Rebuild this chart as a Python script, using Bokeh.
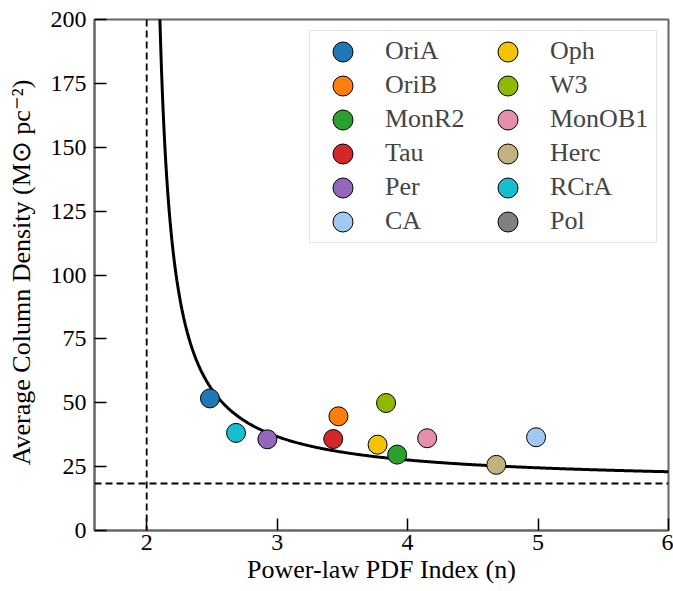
import numpy as np
from bokeh.plotting import figure
from bokeh.models import Range1d, Span, Legend, LegendItem, FixedTicker
from bokeh.embed import file_html
from bokeh.resources import INLINE

# ---- data ----
names = ["OriA", "OriB", "MonR2", "Tau", "Per", "CA",
         "Oph", "W3", "MonOB1", "Herc", "RCrA", "Pol"]
pdf_index = [2.485, 3.47, 3.92, 3.43, 2.925, 4.985,
             3.77, 3.835, 4.15, 4.68, 2.685, float("nan")]
avg_density = [51.7, 44.7, 29.7, 35.8, 35.7, 36.5,
               33.6, 49.9, 36.1, 25.7, 38.2, float("nan")]
colors = ["#1f77b4", "#ff7f0e", "#2ca02c", "#d62728", "#9467bd", "#a1c9f4",
          "#f5c400", "#8fb800", "#e68fac", "#c2b280", "#17becf", "#808080"]

sigma0 = 18.4          # threshold column density (horizontal dashed line)
n_crit = 2.0           # critical index (vertical dashed line)
x_ticks = [2, 3, 4, 5, 6]
y_ticks = [0, 25, 50, 75, 100, 125, 150, 175, 200]

FONT = "Liberation Serif"

p = figure(width=673, height=591, output_backend="svg", toolbar_location=None,
           x_range=Range1d(1.6, 6.0), y_range=Range1d(0, 200),
           min_border_left=94, min_border_right=5, min_border_top=19,
           min_border_bottom=61)
p.grid.visible = False
p.outline_line_color = "#666666"
p.outline_line_width = 2
p.background_fill_color = "white"
p.border_fill_color = "white"

for ax in (p.xaxis[0], p.yaxis[0]):
    ax.axis_line_color = "#666666"
    ax.axis_line_width = 2
    ax.major_tick_in = 12
    ax.major_tick_out = 0
    ax.minor_tick_line_color = None
    ax.major_tick_line_color = "black"
    ax.major_tick_line_width = 1.5
    ax.major_label_text_font = FONT
    ax.major_label_text_font_size = "24px"
    ax.major_label_text_color = "black"
    ax.axis_label_text_font = FONT
    ax.axis_label_text_font_size = "26px"
    ax.axis_label_text_font_style = "normal"
    ax.axis_label_text_color = "black"

p.xaxis.ticker = FixedTicker(ticks=x_ticks)
p.yaxis.ticker = FixedTicker(ticks=y_ticks)
p.xaxis.axis_label = "Power-law PDF Index (n)"
p.yaxis.axis_label = "Average Column Density (M\u2299 pc\u207b\u00b2)"
p.xaxis.major_label_standoff = 4
p.xaxis.axis_label_standoff = 2
p.yaxis.major_label_standoff = 8
p.yaxis.axis_label_standoff = 12

# reference lines
p.add_layout(Span(location=n_crit, dimension="height", line_color="black",
                  line_width=1.8, line_dash="7 4"))
p.add_layout(Span(location=sigma0, dimension="width", line_color="black",
                  line_width=1.8, line_dash="7 4"))

# model curve
n_curve = np.linspace(2.095, 6.0, 600)
sigma_curve = sigma0 * (n_curve - 1.0) / (n_curve - 2.0)
p.line(n_curve, sigma_curve, line_color="black", line_width=3)

items = []
for name, xv, yv, c in zip(names, pdf_index, avg_density, colors):
    r = p.ellipse(x=[xv], y=[yv], width=19, height=19,
                  width_units="screen", height_units="screen",
                  fill_color=c, line_color="black", line_width=1)
    items.append(LegendItem(label=name, renderers=[r]))

legend = Legend(items=items, ncols=2, location="top_right",
                glyph_width=25, glyph_height=25, spacing=4,
                label_standoff=30, label_width=106,
                padding=dict(left=20, right=0, top=5, bottom=6), margin=11,
                label_text_font=FONT, label_text_font_size="26px",
                label_text_baseline="middle",
                border_line_color="#cccccc", border_line_width=1,
                background_fill_alpha=1.0)
p.add_layout(legend, "center")

open("out.html", "w").write(file_html(p, INLINE))
